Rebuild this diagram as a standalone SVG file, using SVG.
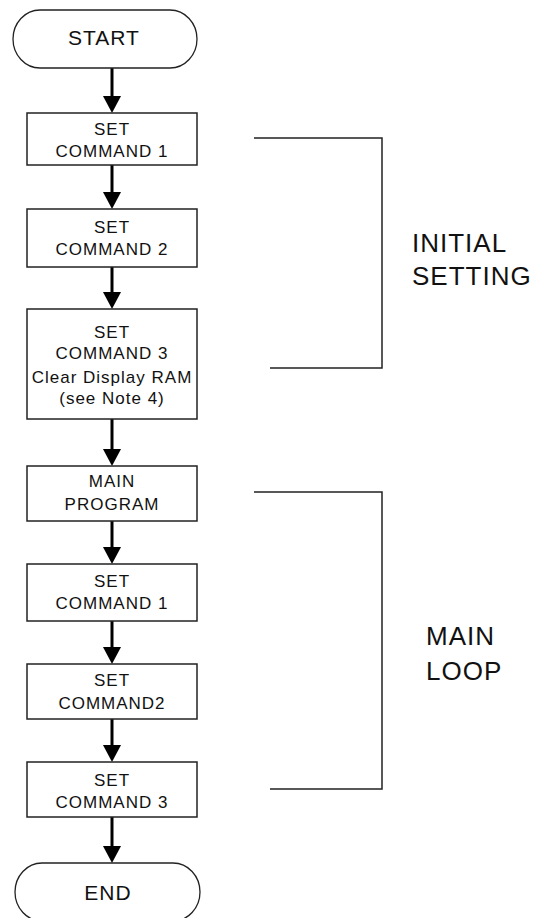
<svg xmlns="http://www.w3.org/2000/svg" width="534" height="918" viewBox="0 0 534 918">
<style>
.box{fill:#fff;stroke:#222;stroke-width:1.5}
.term{fill:#fff;stroke:#222;stroke-width:1.3}
.t{font-family:"Liberation Sans",Arial,sans-serif;font-size:17px;fill:#111;text-anchor:middle;letter-spacing:1px}
.tt{font-family:"Liberation Sans",Arial,sans-serif;font-size:21px;fill:#111;text-anchor:middle;letter-spacing:1px}
.lbl{font-family:"Liberation Sans",Arial,sans-serif;font-size:26px;fill:#111;letter-spacing:1px}
.c{stroke:#000;stroke-width:3;fill:none}
.br{stroke:#222;stroke-width:1.5;fill:none}
</style>
<defs>
<marker id="ah" markerUnits="userSpaceOnUse" viewBox="0 0 17 18" markerWidth="17" markerHeight="18" refX="7" refY="9" orient="auto">
<path d="M0,0 L17,9 L0,18 Z" fill="#000"/>
</marker>
</defs>
<g id="connectors">
<line class="c" x1="112" y1="68" x2="112" y2="103" marker-end="url(#ah)"/>
<line class="c" x1="112" y1="165" x2="112" y2="199" marker-end="url(#ah)"/>
<line class="c" x1="112" y1="267" x2="112" y2="299" marker-end="url(#ah)"/>
<line class="c" x1="112" y1="419" x2="112" y2="456" marker-end="url(#ah)"/>
<line class="c" x1="112" y1="521" x2="112" y2="554" marker-end="url(#ah)"/>
<line class="c" x1="112" y1="621" x2="112" y2="654" marker-end="url(#ah)"/>
<line class="c" x1="112" y1="719" x2="112" y2="752" marker-end="url(#ah)"/>
<line class="c" x1="112" y1="817" x2="112" y2="853" marker-end="url(#ah)"/>
</g>
<g id="start">
<rect class="term" x="13" y="10" width="184" height="58" rx="27" ry="29"/>
<text class="tt" x="104" y="45">START</text>
</g>
<g id="cmd1">
<rect class="box" x="27" y="113" width="170" height="52"/>
<text class="t" x="112" y="135">SET</text>
<text class="t" x="112" y="157">COMMAND 1</text>
</g>
<g id="cmd2">
<rect class="box" x="27" y="209" width="170" height="58"/>
<text class="t" x="112" y="233">SET</text>
<text class="t" x="112" y="255">COMMAND 2</text>
</g>
<g id="cmd3">
<rect class="box" x="27" y="309" width="170" height="110"/>
<text class="t" x="112" y="338">SET</text>
<text class="t" x="112" y="359">COMMAND 3</text>
<text class="t" x="112" y="383">Clear Display RAM</text>
<text class="t" x="112" y="404">(see Note 4)</text>
</g>
<g id="mainprog">
<rect class="box" x="27" y="466" width="170" height="55"/>
<text class="t" x="112" y="487">MAIN</text>
<text class="t" x="112" y="510">PROGRAM</text>
</g>
<g id="loop1">
<rect class="box" x="27" y="564" width="170" height="57"/>
<text class="t" x="112" y="587">SET</text>
<text class="t" x="112" y="609">COMMAND 1</text>
</g>
<g id="loop2">
<rect class="box" x="27" y="664" width="170" height="55"/>
<text class="t" x="112" y="686">SET</text>
<text class="t" x="112" y="709">COMMAND2</text>
</g>
<g id="loop3">
<rect class="box" x="27" y="762" width="170" height="55"/>
<text class="t" x="112" y="786">SET</text>
<text class="t" x="112" y="808">COMMAND 3</text>
</g>
<g id="end">
<rect class="term" x="15" y="863" width="185" height="58" rx="27" ry="29"/>
<text class="tt" x="108" y="900">END</text>
</g>
<g id="initial-bracket">
<polyline class="br" points="254,138 382,138 382,368 270,368"/>
<text class="lbl" x="412" y="252">INITIAL</text>
<text class="lbl" x="412" y="285">SETTING</text>
</g>
<g id="main-bracket">
<polyline class="br" points="254,492 382,492 382,789 270,789"/>
<text class="lbl" x="426" y="645">MAIN</text>
<text class="lbl" x="426" y="680">LOOP</text>
</g>
</svg>
